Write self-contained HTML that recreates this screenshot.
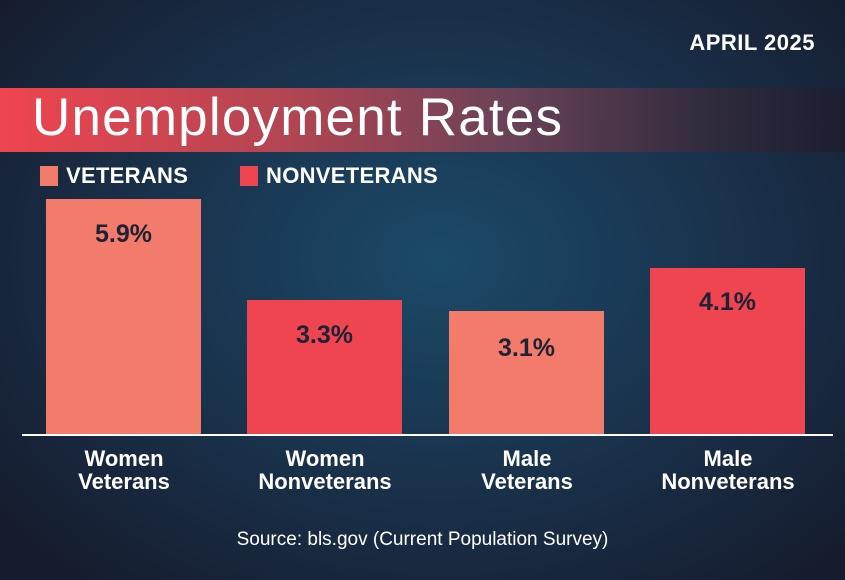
<!DOCTYPE html>
<html><head><style>
*{margin:0;padding:0}
body{width:845px;height:580px;overflow:hidden;position:relative;font-family:"Liberation Sans",sans-serif;
background:radial-gradient(ellipse 560px 420px at 440px 260px,#1b4a68 0%,#1a3550 45%,#161c2e 100%);}
.a{position:absolute}
.band{left:0;top:88px;width:845px;height:64px;background:linear-gradient(90deg,#ef4550 0%,#b04552 35%,#6a4258 60%,#2e2a3c 85%,#1c1f30 100%);}
.title{left:32px;top:88px;font-size:53px;color:#fff;line-height:60px;letter-spacing:1.2px;font-weight:300}
.date{right:30px;top:30px;color:#fff;font-weight:bold;font-size:22px;letter-spacing:0.5px}
.leg{color:#fff;font-weight:bold;font-size:22px;top:163px;letter-spacing:0.3px}
.sq{width:18px;height:20px;top:166px}
.bar{width:155px}
.v{background:#f27b6c}.n{background:#ef4550}
.val{width:155px;text-align:center;color:#1e2235;font-weight:bold;font-size:25px}
.lab{width:200px;text-align:center;color:#fff;font-weight:bold;font-size:22px;line-height:23px;top:447px}
</style></head><body>
<div class="a date">APRIL 2025</div>
<div class="a band"></div>
<div class="a title">Unemployment Rates</div>
<div class="a sq v" style="left:40px"></div><div class="a leg" style="left:66px">VETERANS</div>
<div class="a sq n" style="left:240px"></div><div class="a leg" style="left:266px">NONVETERANS</div>
<div class="a bar v" style="left:46px;top:199px;height:236px"></div>
<div class="a bar n" style="left:247px;top:300px;height:135px"></div>
<div class="a bar v" style="left:449px;top:311px;height:124px"></div>
<div class="a bar n" style="left:650px;top:268px;height:167px"></div>
<div class="a val" style="left:46px;top:220px">5.9%</div>
<div class="a val" style="left:247px;top:321px">3.3%</div>
<div class="a val" style="left:449px;top:334px">3.1%</div>
<div class="a val" style="left:650px;top:288px">4.1%</div>
<div class="a" style="left:22px;top:434px;width:811px;height:2px;background:#fff"></div>
<div class="a lab" style="left:24px">Women<br>Veterans</div>
<div class="a lab" style="left:225px">Women<br>Nonveterans</div>
<div class="a lab" style="left:427px">Male<br>Veterans</div>
<div class="a lab" style="left:628px">Male<br>Nonveterans</div>
<div class="a" style="left:0;width:845px;top:529px;text-align:center;color:#fff;font-size:19px">Source: bls.gov (Current Population Survey)</div>
</body></html>
